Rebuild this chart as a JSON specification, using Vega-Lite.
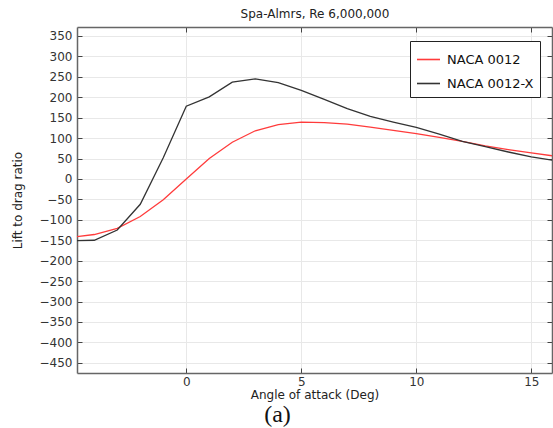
{
  "$schema": "https://vega.github.io/schema/vega-lite/v6.json",
  "width": 475,
  "height": 346,
  "autosize": {"type": "none"},
  "padding": {"left": 77, "top": 27, "right": 1, "bottom": 55},
  "background": "white",
  "title": {"text": "(a)", "orient": "bottom", "font": "Liberation Serif", "fontSize": 24, "fontWeight": "normal", "color": "#111", "offset": 3, "anchor": "middle", "dx": -37},
  "config": {
    "view": {"stroke": null},
    "font": "DejaVu Sans",
    "axis": {"domainColor": "#666", "domainWidth": 1.5, "tickColor": "#444", "tickSize": -5, "labelFont": "DejaVu Sans", "labelFontSize": 12, "labelColor": "#333", "titleFont": "DejaVu Sans", "titleFontSize": 12, "titleFontWeight": "normal", "titleColor": "#222", "gridColor": "#e8e8e8", "gridWidth": 1}
  },
  "data": {"values": [
    {"angle": -5, "ratio": -143, "airfoil": "NACA 0012"},
    {"angle": -4, "ratio": -136, "airfoil": "NACA 0012"},
    {"angle": -3, "ratio": -121, "airfoil": "NACA 0012"},
    {"angle": -2, "ratio": -92, "airfoil": "NACA 0012"},
    {"angle": -1, "ratio": -51, "airfoil": "NACA 0012"},
    {"angle": 0, "ratio": 0, "airfoil": "NACA 0012"},
    {"angle": 1, "ratio": 50, "airfoil": "NACA 0012"},
    {"angle": 2, "ratio": 90, "airfoil": "NACA 0012"},
    {"angle": 3, "ratio": 118, "airfoil": "NACA 0012"},
    {"angle": 4, "ratio": 133, "airfoil": "NACA 0012"},
    {"angle": 5, "ratio": 139, "airfoil": "NACA 0012"},
    {"angle": 6, "ratio": 138, "airfoil": "NACA 0012"},
    {"angle": 7, "ratio": 134, "airfoil": "NACA 0012"},
    {"angle": 8, "ratio": 127, "airfoil": "NACA 0012"},
    {"angle": 9, "ratio": 119, "airfoil": "NACA 0012"},
    {"angle": 10, "ratio": 111, "airfoil": "NACA 0012"},
    {"angle": 11, "ratio": 102, "airfoil": "NACA 0012"},
    {"angle": 12, "ratio": 92, "airfoil": "NACA 0012"},
    {"angle": 13, "ratio": 81, "airfoil": "NACA 0012"},
    {"angle": 14, "ratio": 72, "airfoil": "NACA 0012"},
    {"angle": 15, "ratio": 64, "airfoil": "NACA 0012"},
    {"angle": 16, "ratio": 56, "airfoil": "NACA 0012"},
    {"angle": -5, "ratio": -151, "airfoil": "NACA 0012-X"},
    {"angle": -4, "ratio": -150, "airfoil": "NACA 0012-X"},
    {"angle": -3, "ratio": -125, "airfoil": "NACA 0012-X"},
    {"angle": -2, "ratio": -62, "airfoil": "NACA 0012-X"},
    {"angle": -1, "ratio": 52, "airfoil": "NACA 0012-X"},
    {"angle": 0, "ratio": 178, "airfoil": "NACA 0012-X"},
    {"angle": 1, "ratio": 201, "airfoil": "NACA 0012-X"},
    {"angle": 2, "ratio": 237, "airfoil": "NACA 0012-X"},
    {"angle": 3, "ratio": 245, "airfoil": "NACA 0012-X"},
    {"angle": 4, "ratio": 236, "airfoil": "NACA 0012-X"},
    {"angle": 5, "ratio": 217, "airfoil": "NACA 0012-X"},
    {"angle": 6, "ratio": 195, "airfoil": "NACA 0012-X"},
    {"angle": 7, "ratio": 172, "airfoil": "NACA 0012-X"},
    {"angle": 8, "ratio": 153, "airfoil": "NACA 0012-X"},
    {"angle": 9, "ratio": 139, "airfoil": "NACA 0012-X"},
    {"angle": 10, "ratio": 126, "airfoil": "NACA 0012-X"},
    {"angle": 11, "ratio": 110, "airfoil": "NACA 0012-X"},
    {"angle": 12, "ratio": 92, "airfoil": "NACA 0012-X"},
    {"angle": 13, "ratio": 79, "airfoil": "NACA 0012-X"},
    {"angle": 14, "ratio": 66, "airfoil": "NACA 0012-X"},
    {"angle": 15, "ratio": 54, "airfoil": "NACA 0012-X"},
    {"angle": 16, "ratio": 45, "airfoil": "NACA 0012-X"}
  ]},
  "layer": [
    {
      "mark": {"type": "line", "strokeWidth": 1.3, "clip": true},
      "encoding": {
        "x": {"field": "angle", "type": "quantitative", "scale": {"domain": [-4.75, 15.9], "nice": false, "zero": false},
              "axis": {"orient": "bottom", "values": [0, 5, 10, 15], "title": "Angle of attack (Deg)", "labelPadding": 8, "titlePadding": 2, "grid": true}},
        "y": {"field": "ratio", "type": "quantitative", "scale": {"domain": [-475, 372], "nice": false, "zero": false},
              "axis": {"orient": "left", "values": [-450, -400, -350, -300, -250, -200, -150, -100, -50, 0, 50, 100, 150, 200, 250, 300, 350], "title": "Lift to drag ratio", "labelPadding": 10, "titlePadding": 15, "grid": true}},
        "color": {"field": "airfoil", "type": "nominal",
                  "scale": {"domain": ["NACA 0012", "NACA 0012-X"], "range": ["#ff3b3b", "#333333"]},
                  "legend": {"title": null, "orient": "none", "legendX": 333, "legendY": 14, "symbolType": "stroke", "symbolSize": 529, "symbolStrokeWidth": 1.6, "labelFontSize": 13, "labelFont": "DejaVu Sans", "labelColor": "#111", "strokeColor": "#222", "fillColor": "white", "padding": 6, "rowPadding": 4, "labelOffset": 6}}
      }
    },
    {
      "mark": {"type": "line", "opacity": 0},
      "encoding": {
        "x": {"field": "angle", "type": "quantitative",
              "axis": {"orient": "top", "values": [0, 5, 10, 15], "labels": false, "title": "Spa-Almrs, Re 6,000,000", "titlePadding": 6, "grid": false}},
        "y": {"field": "ratio", "type": "quantitative",
              "axis": {"orient": "right", "values": [-450, -400, -350, -300, -250, -200, -150, -100, -50, 0, 50, 100, 150, 200, 250, 300, 350], "labels": false, "title": null, "grid": false}},
        "detail": {"field": "airfoil"}
      }
    }
  ],
  "resolve": {"axis": {"x": "independent", "y": "independent"}}
}
